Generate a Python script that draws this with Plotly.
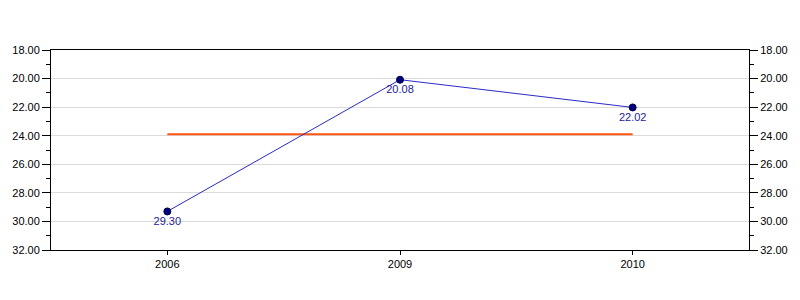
import plotly.graph_objects as go

years = ["2006", "2009", "2010"]
values = [29.30, 20.08, 22.02]
avg_value = 23.9
y_ticks = [18, 20, 22, 24, 26, 28, 30, 32]
y_tick_labels = ["18.00", "20.00", "22.00", "24.00", "26.00", "28.00", "30.00", "32.00"]

fig = go.Figure()
fig.add_trace(go.Scatter(
    x=years, y=[avg_value] * len(years), mode="lines",
    line=dict(color="#ff5511", width=2), hoverinfo="skip", showlegend=False))
fig.add_trace(go.Scatter(
    x=years, y=values, mode="lines+markers+text",
    line=dict(color="#2a2ac8", width=1),
    marker=dict(color="#000080", size=7, line=dict(color="#000040", width=1)),
    text=[f"{v:.2f}" for v in values], textposition="bottom center",
    textfont=dict(color="#1c1c96", size=11, family="Liberation Sans, Arial"),
    showlegend=False))
fig.add_trace(go.Scatter(x=years, y=values, yaxis="y2", mode="markers",
                         marker=dict(opacity=0), hoverinfo="skip", showlegend=False))

axis_font = dict(family="Liberation Sans, Arial", size=11, color="#000000")
yax = dict(range=[32, 18], tickvals=y_ticks, ticktext=y_tick_labels,
           ticks="outside", ticklen=8, tickcolor="#000", tickwidth=1,
           minor=dict(dtick=1, tick0=18, ticks="outside", ticklen=4, tickcolor="#000", showgrid=False),
           showline=True, linecolor="#000", linewidth=1,
           showgrid=True, gridcolor="#dcdcdc", gridwidth=1,
           zeroline=False, tickfont=axis_font, fixedrange=True)
fig.update_layout(
    width=800, height=300,
    margin=dict(l=50, r=47, t=50, b=50),
    paper_bgcolor="#fff", plot_bgcolor="#fff",
    xaxis=dict(type="category", range=[-0.5, 2.5], ticks="outside", ticklen=4,
               tickcolor="#000", showline=True, linecolor="#000", linewidth=1,
               mirror=True, showgrid=False, tickfont=axis_font),
    yaxis=yax,
    yaxis2=dict(yax, overlaying="y", side="right", showgrid=False),
)
fig.write_html("out.html")
